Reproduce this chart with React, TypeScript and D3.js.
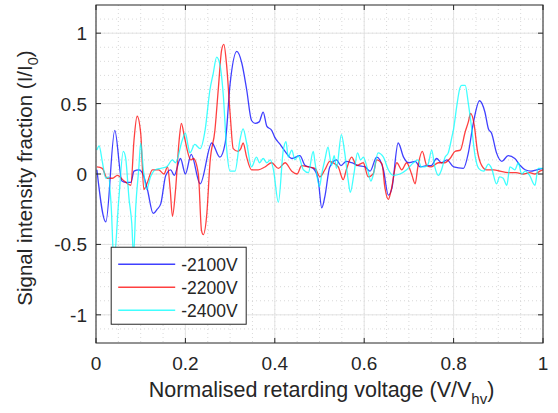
import React, { useEffect, useRef } from "react";
import * as d3 from "d3";

// -2100V trace
const x2100 = [0.002, 0.022, 0.042, 0.058, 0.068, 0.078, 0.085, 0.096, 0.105, 0.115, 0.128, 0.137, 0.145, 0.156, 0.167, 0.175, 0.189, 0.2, 0.213, 0.233, 0.259, 0.277, 0.289, 0.3, 0.315, 0.326, 0.337, 0.348, 0.356, 0.365, 0.374, 0.382, 0.393, 0.4, 0.412, 0.423, 0.438, 0.456, 0.468, 0.486, 0.497, 0.505, 0.512, 0.523, 0.538, 0.548, 0.56, 0.572, 0.587, 0.602, 0.613, 0.628, 0.643, 0.654, 0.662, 0.676, 0.688, 0.699, 0.714, 0.725, 0.74, 0.75, 0.762, 0.773, 0.785, 0.8, 0.822, 0.833, 0.844, 0.858, 0.87, 0.878, 0.885, 0.896, 0.908, 0.922, 0.937, 0.949, 0.96, 0.973, 0.986, 1.0];
const y2100 = [0.03, -0.34, 0.31, -0.05, -0.06, -0.06, 0.02, 0.03, 0.0, -0.11, -0.28, -0.25, -0.21, -0.01, 0.03, -0.01, 0.11, 0.0, 0.14, -0.07, 0.22, 0.12, 0.22, 0.64, 0.87, 0.79, 0.6, 0.38, 0.36, 0.37, 0.44, 0.34, 0.31, 0.26, 0.21, 0.16, 0.11, 0.13, 0.06, 0.04, -0.04, -0.24, -0.16, 0.05, 0.1, 0.06, 0.09, 0.08, 0.06, 0.05, 0.02, 0.12, 0.03, -0.15, -0.1, 0.22, 0.12, 0.08, 0.09, 0.05, 0.06, 0.06, 0.11, 0.08, 0.1, 0.05, 0.04, 0.15, 0.36, 0.52, 0.44, 0.32, 0.29, 0.15, 0.09, 0.13, 0.11, 0.06, 0.03, 0.02, 0.03, 0.04];

// -2200V trace
const x2200 = [0.002, 0.014, 0.025, 0.037, 0.048, 0.063, 0.078, 0.085, 0.092, 0.1, 0.107, 0.115, 0.126, 0.14, 0.152, 0.16, 0.166, 0.171, 0.178, 0.186, 0.191, 0.198, 0.212, 0.218, 0.229, 0.236, 0.24, 0.248, 0.255, 0.266, 0.274, 0.281, 0.286, 0.292, 0.3, 0.307, 0.318, 0.324, 0.329, 0.337, 0.348, 0.363, 0.378, 0.393, 0.408, 0.423, 0.438, 0.45, 0.46, 0.475, 0.49, 0.501, 0.512, 0.523, 0.53, 0.542, 0.553, 0.56, 0.572, 0.583, 0.598, 0.609, 0.62, 0.628, 0.64, 0.646, 0.654, 0.66, 0.673, 0.684, 0.695, 0.706, 0.714, 0.72, 0.73, 0.74, 0.75, 0.766, 0.78, 0.792, 0.803, 0.815, 0.826, 0.833, 0.838, 0.846, 0.853, 0.863, 0.874, 0.89, 0.904, 0.922, 0.94, 0.956, 0.97, 0.982, 0.993, 1.0];
const y2200 = [0.05, 0.04, -0.03, -0.03, -0.01, -0.05, -0.08, 0.24, 0.41, 0.29, -0.11, -0.06, 0.03, 0.03, 0.0, 0.05, -0.11, -0.3, -0.11, 0.24, 0.36, 0.26, 0.1, 0.11, 0.0, -0.4, -0.43, -0.28, 0.08, 0.31, 0.62, 0.88, 0.92, 0.78, 0.43, 0.18, 0.16, 0.18, 0.22, 0.12, 0.03, 0.03, 0.05, 0.08, 0.04, 0.08, 0.02, 0.0, 0.06, 0.05, 0.04, -0.02, 0.03, 0.09, 0.08, 0.05, -0.04, 0.03, 0.12, 0.06, 0.08, -0.02, 0.0, 0.1, 0.07, -0.09, -0.18, -0.12, 0.08, 0.03, 0.08, 0.0, -0.07, 0.05, 0.16, 0.06, 0.05, 0.08, 0.08, 0.11, 0.16, 0.17, 0.3, 0.37, 0.43, 0.35, 0.17, 0.06, 0.03, 0.03, 0.02, 0.01, 0.01, 0.0, 0.01, 0.0, 0.02, 0.03];

// -2400V trace
const x2400 = [0.002, 0.007, 0.014, 0.022, 0.028, 0.034, 0.04, 0.051, 0.061, 0.066, 0.074, 0.08, 0.084, 0.089, 0.096, 0.1, 0.106, 0.113, 0.122, 0.133, 0.145, 0.158, 0.171, 0.178, 0.193, 0.2, 0.206, 0.21, 0.221, 0.233, 0.244, 0.255, 0.262, 0.27, 0.277, 0.285, 0.292, 0.3, 0.311, 0.322, 0.329, 0.337, 0.348, 0.359, 0.366, 0.374, 0.382, 0.39, 0.397, 0.408, 0.419, 0.425, 0.43, 0.438, 0.445, 0.452, 0.464, 0.475, 0.486, 0.49, 0.5, 0.505, 0.512, 0.519, 0.527, 0.533, 0.538, 0.549, 0.556, 0.564, 0.569, 0.577, 0.585, 0.592, 0.598, 0.607, 0.615, 0.62, 0.631, 0.643, 0.654, 0.665, 0.68, 0.695, 0.71, 0.72, 0.728, 0.735, 0.743, 0.751, 0.758, 0.766, 0.773, 0.781, 0.788, 0.796, 0.8, 0.807, 0.814, 0.818, 0.826, 0.833, 0.841, 0.848, 0.856, 0.867, 0.878, 0.885, 0.896, 0.903, 0.911, 0.919, 0.926, 0.937, 0.945, 0.952, 0.96, 0.97, 0.982, 0.989, 1.0];
const y2400 = [0.17, 0.2, 0.09, -0.03, -0.02, -0.23, -0.62, -0.18, 0.16, 0.12, -0.18, -0.35, -0.58, -0.23, 0.05, 0.22, 0.03, -0.11, -0.02, 0.03, 0.04, 0.05, 0.1, 0.08, 0.24, 0.29, 0.2, 0.15, 0.21, 0.18, 0.31, 0.6, 0.71, 0.83, 0.78, 0.55, 0.19, 0.02, 0.02, 0.24, 0.32, 0.22, 0.05, 0.12, 0.08, 0.11, 0.08, 0.1, 0.03, -0.2, 0.17, 0.23, 0.12, 0.17, 0.1, 0.13, 0.03, 0.01, 0.16, 0.08, -0.09, 0.0, 0.1, 0.19, 0.06, 0.13, 0.04, 0.28, 0.16, -0.04, -0.13, 0.0, 0.15, 0.1, 0.12, 0.04, -0.05, -0.01, 0.15, 0.12, 0.03, -0.01, 0.0, 0.03, 0.08, 0.1, 0.05, 0.05, 0.07, 0.17, 0.05, -0.01, 0.03, 0.12, 0.15, 0.26, 0.32, 0.48, 0.61, 0.63, 0.63, 0.5, 0.31, 0.13, 0.04, 0.02, 0.07, 0.04, -0.07, -0.02, -0.03, -0.08, 0.05, 0.03, 0.08, 0.0, 0.02, -0.01, -0.08, 0.04, 0.04];

const seriesNames = ["-2100V", "-2200V", "-2400V"];
const seriesColors = ["#0000ff", "#ff0000", "#00ffff"];

const xTicks = [0, 0.2, 0.4, 0.6, 0.8, 1];
const yTicks = [-1, -0.5, 0, 0.5, 1];
const xMinor = d3.range(0, 1.0001, 0.05);
const yMinor = d3.range(-1.1, 1.1001, 0.1);

export default function App() {
  const svgRef = useRef(null);

  useEffect(() => {
    const W = 558, H = 413;
    const margin = { top: 5, right: 15, bottom: 70, left: 96 };
    const width = W - margin.left - margin.right;
    const height = H - margin.top - margin.bottom;
    const axisColor = "#262626";
    const font = "Arial, 'Liberation Sans', Helvetica, sans-serif";

    const root = d3.select(svgRef.current);
    root.selectAll("*").remove();
    root.attr("width", W).attr("height", H);

    const svg = root.append("g").attr("transform", `translate(${margin.left},${margin.top})`);

    const xScale = d3.scaleLinear().domain([0, 1]).range([0, width]);
    const yScale = d3.scaleLinear().domain([-1.2, 1.2]).range([height, 0]);

    svg.append("rect").attr("width", width).attr("height", height).attr("fill", "#fff");

    // minor grid (dotted)
    svg.append("g").selectAll("line").data(xMinor).join("line")
      .attr("x1", d => xScale(d)).attr("x2", d => xScale(d))
      .attr("y1", 0).attr("y2", height)
      .attr("stroke", "#cfcfcf").attr("stroke-dasharray", "1,3").attr("stroke-width", 0.8);
    svg.append("g").selectAll("line").data(yMinor).join("line")
      .attr("y1", d => yScale(d)).attr("y2", d => yScale(d))
      .attr("x1", 0).attr("x2", width)
      .attr("stroke", "#cfcfcf").attr("stroke-dasharray", "1,3").attr("stroke-width", 0.8);

    // major grid
    svg.append("g").selectAll("line").data(xTicks).join("line")
      .attr("x1", d => xScale(d)).attr("x2", d => xScale(d))
      .attr("y1", 0).attr("y2", height)
      .attr("stroke", "#e3e3e3").attr("stroke-width", 1);
    svg.append("g").selectAll("line").data(yTicks).join("line")
      .attr("y1", d => yScale(d)).attr("y2", d => yScale(d))
      .attr("x1", 0).attr("x2", width)
      .attr("stroke", "#e3e3e3").attr("stroke-width", 1);

    // lines
    svg.append("clipPath").attr("id", "plotclip")
      .append("rect").attr("width", width).attr("height", height);

    const line = d3.line()
      .x(d => xScale(d[0]))
      .y(d => yScale(d[1]))
      .curve(d3.curveMonotoneX);

    const allSeries = [
      d3.zip(x2100, y2100),
      d3.zip(x2200, y2200),
      d3.zip(x2400, y2400),
    ];

    const lineG = svg.append("g").attr("clip-path", "url(#plotclip)");
    allSeries.forEach((s, i) => {
      lineG.append("path")
        .datum(s)
        .attr("fill", "none")
        .attr("stroke", seriesColors[i])
        .attr("stroke-opacity", 0.75)
        .attr("stroke-width", 1.3)
        .attr("stroke-linejoin", "round")
        .attr("d", line);
    });

    // axes: inside ticks on all four sides
    const tickLen = 5;
    const axG = svg.append("g");
    axG.append("rect").attr("width", width).attr("height", height)
      .attr("fill", "none").attr("stroke", axisColor).attr("stroke-width", 1);

    xTicks.forEach(t => {
      const x = xScale(t);
      axG.append("line").attr("x1", x).attr("x2", x).attr("y1", height).attr("y2", height - tickLen).attr("stroke", axisColor);
      axG.append("line").attr("x1", x).attr("x2", x).attr("y1", 0).attr("y2", tickLen).attr("stroke", axisColor);
      axG.append("text").attr("x", x).attr("y", height + 27)
        .attr("text-anchor", "middle").attr("fill", axisColor)
        .style("font-family", font).style("font-size", "19px")
        .text(String(t));
    });
    yTicks.forEach(t => {
      const y = yScale(t);
      axG.append("line").attr("x1", 0).attr("x2", tickLen).attr("y1", y).attr("y2", y).attr("stroke", axisColor);
      axG.append("line").attr("x1", width).attr("x2", width - tickLen).attr("y1", y).attr("y2", y).attr("stroke", axisColor);
      axG.append("text").attr("x", -9).attr("y", y + 7)
        .attr("text-anchor", "end").attr("fill", axisColor)
        .style("font-family", font).style("font-size", "19px")
        .text(String(t));
    });

    // x label
    const xl = svg.append("text")
      .attr("x", width / 2 + 2).attr("y", height + 54)
      .attr("text-anchor", "middle").attr("fill", axisColor)
      .style("font-family", font).style("font-size", "21.5px");
    xl.append("tspan").text("Normalised retarding voltage (V/V");
    xl.append("tspan").attr("dy", 7).style("font-size", "15px").text("hv");
    xl.append("tspan").attr("dy", -7).text(")");

    // y label
    const yl = svg.append("text")
      .attr("transform", `translate(${-64},${height / 2 + 4}) rotate(-90)`)
      .attr("text-anchor", "middle").attr("fill", axisColor)
      .style("font-family", font).style("font-size", "20.5px");
    yl.append("tspan").text("Signal intensity fraction (I/I");
    yl.append("tspan").attr("dy", 6).style("font-size", "14.5px").text("0");
    yl.append("tspan").attr("dy", -6).text(")");

    // legend
    const lg = svg.append("g").attr("transform", `translate(${xScale(0.034)},${yScale(-0.52)})`);
    lg.append("rect").attr("width", 135).attr("height", 77)
      .attr("fill", "#fff").attr("stroke", axisColor).attr("stroke-width", 1);
    seriesNames.forEach((name, i) => {
      const y = 17 + i * 23;
      lg.append("line").attr("x1", 7).attr("x2", 64).attr("y1", y).attr("y2", y)
        .attr("stroke", seriesColors[i]).attr("stroke-opacity", 0.75).attr("stroke-width", 1.3);
      lg.append("text").attr("x", 70).attr("y", y + 6.5).attr("fill", axisColor)
        .style("font-family", font).style("font-size", "17.5px")
        .text(name);
    });
  }, []);

  return (
    <svg ref={svgRef} style={{ position: "absolute", left: 0, top: 0, display: "block" }}></svg>
  );
}
